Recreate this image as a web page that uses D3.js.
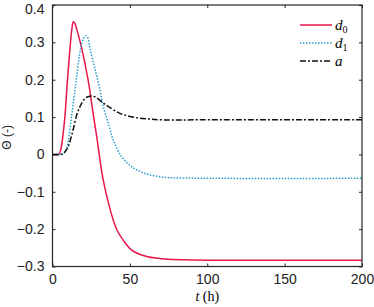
<!DOCTYPE html>
<html lang="en">
<head>
<meta charset="utf-8">
<title>Theta over time</title>
<script src="https://d3js.org/d3.v7.min.js"></script>
<style>
  body { margin: 0; background: #fff; }
  .tick text { font-family: "Liberation Sans", Arial, sans-serif; }
</style>
</head>
<body>
<div id="chart"></div>
<script>
// data
var tD0 = [0, 4, 5.5, 7, 8.1, 9.6, 11.3, 12.5, 13.5, 14.5, 16, 18.9, 23.2, 26.4, 28.5, 30.7, 32.8, 35.7, 39.3, 42, 45.8, 51.2, 59.8, 70, 85, 100, 200];
var d0  = [0, 0, 0.016, 0.06, 0.105, 0.195, 0.284, 0.335, 0.355, 0.35, 0.33, 0.284, 0.195, 0.105, 0.05, -0.015, -0.069, -0.1225, -0.176, -0.205, -0.23, -0.256, -0.272, -0.279, -0.282, -0.283, -0.283];

var tD1 = [0, 6, 7.5, 9.2, 12.4, 15.2, 18.2, 20, 21.7, 23, 24.2, 27.5, 30.7, 32.8, 36.1, 39.3, 44.7, 51.2, 59.8, 72.7, 85, 110, 200];
var d1  = [0, 0, 0.003, 0.016, 0.105, 0.195, 0.284, 0.31, 0.318, 0.31, 0.284, 0.228, 0.172, 0.128, 0.083, 0.038, -0.006, -0.033, -0.051, -0.0615, -0.063, -0.064, -0.064];

var tA = [0, 5, 7, 9.6, 13, 15.6, 18, 21, 24.2, 27.5, 32, 36.1, 43.6, 53.3, 62, 70.6, 90, 200];
var a  = [0, 0, 0.003, 0.016, 0.061, 0.105, 0.13, 0.15, 0.156, 0.154, 0.14, 0.128, 0.11, 0.099, 0.095, 0.0925, 0.0925, 0.0925];

var xTicks = [0, 50, 100, 150, 200];
var yTicks = [-0.3, -0.2, -0.1, 0, 0.1, 0.2, 0.3, 0.4];

var series = [
  { name: "d", sub: "0", t: tD0, v: d0, color: "#e8174a", dash: null },
  { name: "d", sub: "1", t: tD1, v: d1, color: "#2a9fcc", dash: "1.5,1.5" },
  { name: "a", sub: null, t: tA, v: a, color: "#111", dash: "6,2,2,2" }
];

var W = 374, H = 307;
var margin = {top: 5, right: 12, bottom: 40.5, left: 52.5},
    width = W - margin.left - margin.right,
    height = H - margin.top - margin.bottom;

var svg = d3.select("#chart").append("svg")
    .attr("width", W).attr("height", H)
  .append("g")
    .attr("transform", "translate(" + margin.left + "," + margin.top + ")");

var x = d3.scaleLinear().domain([0, 200]).range([0, width]);
var y = d3.scaleLinear().domain([-0.3, 0.4]).range([height, 0]);

var axisColor = "#262626";

// bottom + left axes with inward ticks
svg.append("g")
    .attr("transform", "translate(0," + height + ")")
    .call(d3.axisBottom(x).tickValues(xTicks).tickSize(-3).tickPadding(8).tickFormat(d3.format("d")))
    .call(function(g) {
      g.select(".domain").remove();
      g.selectAll("line").attr("stroke", axisColor);
      g.selectAll("text").attr("font-size", 14).attr("fill", "#222");
    });

svg.append("g")
    .call(d3.axisLeft(y).tickValues(yTicks).tickSize(-3).tickPadding(8)
      .tickFormat(function(d) { return d === 0 ? "0" : d3.format(".1f")(d); }))
    .call(function(g) {
      g.select(".domain").remove();
      g.selectAll("line").attr("stroke", axisColor);
      g.selectAll("text").attr("font-size", 14).attr("fill", "#222");
      // top label sits a bit lower so it stays inside the picture
      g.selectAll(".tick").filter(function(d) { return d === 0.4; })
        .select("text").attr("dy", "0.62em");
    });

// top + right mirror ticks
svg.append("g")
    .call(d3.axisTop(x).tickValues(xTicks).tickSize(-3).tickFormat(""))
    .call(function(g) { g.select(".domain").remove(); g.selectAll("line").attr("stroke", axisColor); });
svg.append("g")
    .attr("transform", "translate(" + width + ",0)")
    .call(d3.axisRight(y).tickValues(yTicks).tickSize(-3).tickFormat(""))
    .call(function(g) { g.select(".domain").remove(); g.selectAll("line").attr("stroke", axisColor); });

// lines
var line = d3.line()
    .x(function(d) { return x(d[0]); })
    .y(function(d) { return y(d[1]); })
    .curve(d3.curveCatmullRom.alpha(0.5));

series.forEach(function(s) {
  var pts = s.t.map(function(t, i) { return [t, s.v[i]]; });
  svg.append("path")
      .datum(pts)
      .attr("fill", "none")
      .attr("stroke", s.color)
      .attr("stroke-width", 1.5)
      .attr("stroke-dasharray", s.dash)
      .attr("d", line);
});

// frame
svg.append("rect")
    .attr("width", width).attr("height", height)
    .attr("fill", "none").attr("stroke", axisColor).attr("stroke-width", 1.2);

// legend
var leg = svg.append("g").attr("transform", "translate(" + (width - 62) + ",20)");
series.forEach(function(s, i) {
  var g = leg.append("g").attr("transform", "translate(0," + (i * 18) + ")");
  g.append("line")
      .attr("x1", 0).attr("x2", 32)
      .attr("stroke", s.color).attr("stroke-width", 1.5)
      .attr("stroke-dasharray", s.dash);
  var txt = g.append("text")
      .attr("x", 35).attr("y", 5)
      .attr("font-family", "'Liberation Serif', 'DejaVu Serif', serif")
      .attr("font-size", 15).attr("font-style", "italic")
      .text(s.name);
  if (s.sub) {
    txt.append("tspan").attr("dy", 3).attr("font-size", 10).attr("font-style", "normal").text(s.sub);
  }
});

// axis labels
var xl = svg.append("text")
    .attr("x", width / 2).attr("y", height + 34)
    .attr("text-anchor", "middle")
    .attr("font-family", "'Liberation Serif', 'DejaVu Serif', serif")
    .attr("font-size", 14);
xl.append("tspan").attr("font-style", "italic").text("t");
xl.append("tspan").text(" (h)");

svg.append("text")
    .attr("transform", "rotate(-90)")
    .attr("x", -(y(0) - 17)).attr("y", -margin.left + 11)
    .attr("text-anchor", "middle")
    .attr("font-family", "'Liberation Sans', Arial, sans-serif")
    .attr("font-size", 12)
    .attr("fill", "#222")
    .text("Θ (-)");
</script>
</body>
</html>
